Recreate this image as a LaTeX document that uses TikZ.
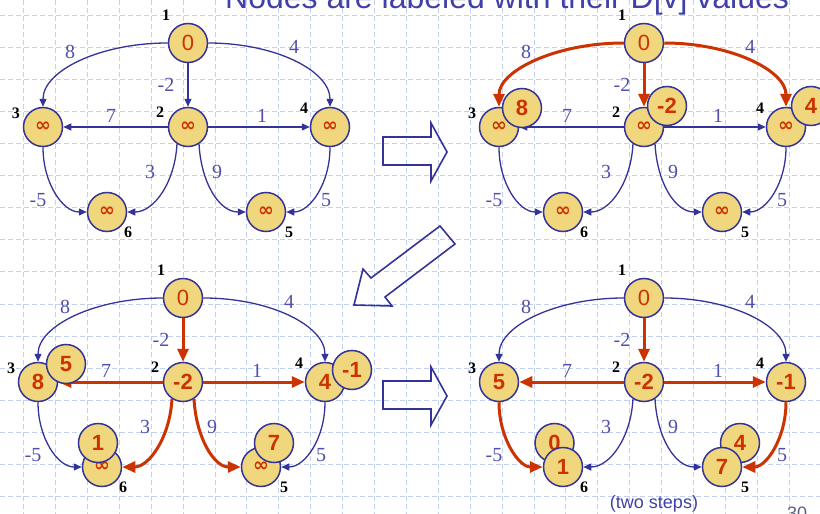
\documentclass[tikz,border=0pt]{standalone}
\usepackage{fontspec}
\setmainfont{Liberation Serif}
\newfontfamily\valfont{Liberation Sans}
\newfontfamily\dvs{DejaVu Sans}
\usetikzlibrary{arrows.meta}

\definecolor{eblue}{RGB}{51,51,153}
\definecolor{wblue}{RGB}{80,80,170}
\definecolor{tblue}{RGB}{64,64,168}
\definecolor{nfill}{RGB}{240,215,125}
\definecolor{vred}{RGB}{204,51,0}
\definecolor{gridc}{RGB}{195,208,240}
\definecolor{pgray}{RGB}{90,96,130}

\newcommand\infsym{{\dvs\bfseries\fontsize{19}{19}\selectfont ∞}}
\newcommand\bval[1]{{\bfseries #1}}

\tikzset{
  gnode/.style={circle, draw=eblue, line width=1.5pt, fill=nfill, minimum size=39pt,
    inner sep=0pt, text=vred, font=\valfont\fontsize{22}{22}\selectfont},
  bubble/.style={gnode, font=\valfont\bfseries\fontsize{22}{22}\selectfont},
  idlabel/.style={font=\bfseries\fontsize{16}{16}\selectfont, text=black, inner sep=0pt},
  wlabel/.style={font=\fontsize{20}{20}\selectfont, text=wblue, inner sep=0pt},
  bedge/.style={draw=eblue, line width=1.3pt, -{Triangle[length=8pt,width=7pt]}},
  redge/.style={draw=vred, line width=3pt, -{Triangle[length=13pt,width=11pt]}},
  blockarrow/.style={draw=eblue, line width=1.6pt, line join=miter},
  gridline/.style={draw=gridc, line width=0.7pt, dash pattern=on 5pt off 3pt},
  e12/.style=bedge, e13/.style=bedge, e14/.style=bedge,
  e23/.style=bedge, e24/.style=bedge, e26/.style=bedge,
  e25/.style=bedge, e36/.style=bedge, e45/.style=bedge,
}

\newcommand\gnodes[7]{%
  \node[gnode] (#1n1) at (188,-43) {#2};
  \node[gnode] (#1n2) at (188,-127) {#3};
  \node[gnode] (#1n3) at (43,-127) {#4};
  \node[gnode] (#1n4) at (330,-127) {#5};
  \node[gnode] (#1n5) at (266,-212) {#6};
  \node[gnode] (#1n6) at (107,-212) {#7};
  \node[idlabel] (#1i1) at (166,-15) {1};
  \node[idlabel] (#1i2) at (160,-112) {2};
  \node[idlabel] (#1i3) at (16,-113) {3};
  \node[idlabel] (#1i4) at (304,-108) {4};
  \node[idlabel] (#1i5) at (289,-232) {5};
  \node[idlabel] (#1i6) at (128,-232) {6};
}

\newcommand\gedges[1]{%
  \draw[e13] (#1n1.west) .. controls +(-68,0) and +(0,36) .. (#1n3.north);
  \draw[e14] (#1n1.east) .. controls +(67,0) and +(0,36) .. (#1n4.north);
  \draw[e12] (#1n1) -- (#1n2);
  \draw[e23] (#1n2) -- (#1n3);
  \draw[e24] (#1n2) -- (#1n4);
  \draw[e36] (#1n3.south) .. controls +(0,-36) and +(-24,0) .. (#1n6.west);
  \draw[e26] (#1n2.237) .. controls +(-2,-38) and +(27,0) .. (#1n6.east);
  \draw[e25] (#1n2.303) .. controls +(2,-38) and +(-27,0) .. (#1n5.west);
  \draw[e45] (#1n4.south) .. controls +(0,-36) and +(24,0) .. (#1n5.east);
}

\newcommand\gweights[1]{%
  \node[wlabel] (#1w13) at (70,-52) {8};
  \node[wlabel] (#1w14) at (294,-47) {4};
  \node[wlabel] (#1w12) at (166,-85) {-2};
  \node[wlabel] (#1w23) at (111,-116) {7};
  \node[wlabel] (#1w24) at (262,-116) {1};
  \node[wlabel] (#1w26) at (150,-172) {3};
  \node[wlabel] (#1w25) at (217,-172) {9};
  \node[wlabel] (#1w36) at (38,-200) {-5};
  \node[wlabel] (#1w45) at (326,-200) {5};
}

\begin{document}
\begin{tikzpicture}[x=1pt,y=1pt]
\useasboundingbox (0,0) rectangle (820,-514);
\clip (0,0) rectangle (820,-514);

% background grid
\foreach \i in {0,...,24} \draw[gridline] ({23.5+31.9*\i},0) -- ({23.5+31.9*\i},-514);
\foreach \j in {0,...,15} \draw[gridline] (0,{-15-32.1*\j}) -- (820,{-15-32.1*\j});

% title (cut by the top edge)
\node[anchor=base west, inner sep=0pt, text=tblue, font=\valfont\fontsize{32}{32}\selectfont] (title) at (225,-9) {Nodes are labeled with their D[v] values};

% panel 1
\begin{scope}
  \gnodes{a}{0}{\infsym}{\infsym}{\infsym}{\infsym}{\infsym}
  \gedges{a}
  \gweights{a}
\end{scope}

% panel 2
\begin{scope}[shift={(456,0)}, e12/.style=redge, e13/.style=redge, e14/.style=redge]
  \gnodes{b}{0}{\infsym}{\infsym}{\infsym}{\infsym}{\infsym}
  \gedges{b}
  \gweights{b}
  \node[bubble] (bb3) at (66,-108) {8};
  \node[bubble] (bb2) at (211,-106) {-2};
  \node[bubble] (bb4) at (355,-106) {4};
\end{scope}

% panel 3
\begin{scope}[shift={(-5,-255)}, e12/.style=redge, e23/.style=redge, e24/.style=redge,
  e26/.style=redge, e25/.style=redge]
  \gnodes{c}{0}{\bval{-2}}{\bval{8}}{\bval{4}}{\infsym}{\infsym}
  \gedges{c}
  \gweights{c}
  \node[bubble] (cb3) at (71,-109) {5};
  \node[bubble] (cb4) at (357,-115) {-1};
  \node[bubble] (cb6) at (103,-188) {1};
  \node[bubble] (cb5) at (279,-188) {7};
\end{scope}

% panel 4
\begin{scope}[shift={(456,-255)}, e12/.style=redge, e23/.style=redge, e24/.style=redge,
  e36/.style=redge, e45/.style=redge]
  \node[bubble] (db6) at (98.5,-188) {0};
  \node[bubble] (db5) at (284,-188) {4};
  \gnodes{d}{0}{\bval{-2}}{\bval{5}}{\bval{-1}}{\bval{7}}{\bval{1}}
  \gedges{d}
  \gweights{d}
\end{scope}

% block arrows
\draw[blockarrow] (383,-137) -- (431,-137) -- (431,-123) -- (447,-152) -- (431,-181) -- (431,-165) -- (383,-165) -- cycle;
\draw[blockarrow] (383,-381) -- (431,-381) -- (431,-367) -- (447,-396) -- (431,-425) -- (431,-409) -- (383,-409) -- cycle;
\draw[blockarrow] (440,-226) -- (455,-244) -- (385,-297) -- (392,-306) -- (354,-305) -- (363,-269) -- (371,-278) -- cycle;

% footer texts
\node[anchor=base, inner sep=0pt, text=tblue, font=\valfont\fontsize{18}{18}\selectfont] (note) at (654,-508) {(two steps)};
\node[anchor=base west, inner sep=0pt, text=pgray, font=\valfont\fontsize{18}{18}\selectfont] (pagenum) at (787,-519) {30};
\end{tikzpicture}
\end{document}
